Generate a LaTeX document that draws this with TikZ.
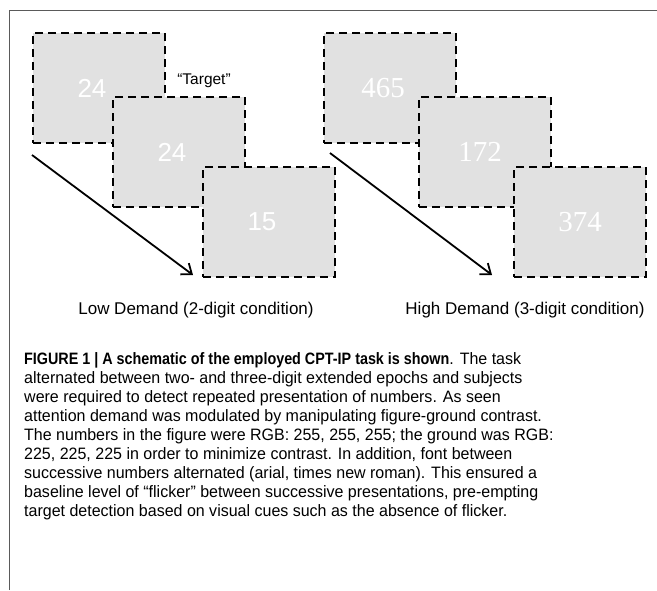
\documentclass[tikz,border=0pt]{standalone}
\usepackage{fontspec}
\setmainfont{Liberation Sans}
\newfontfamily\serifnum{Liberation Serif}
\newfontfamily\capfont[FakeStretch=0.97, BoldFeatures={FakeStretch=0.87}]{Liberation Sans}
\usetikzlibrary{arrows.meta}
\definecolor{ground}{RGB}{225,225,225}
\definecolor{frame}{RGB}{90,90,90}

\begin{document}
\begin{tikzpicture}[x=1pt, y=-1pt,
        screen/.style = {draw, fill=ground, line width=2.6pt, dash pattern=on 8pt off 5pt,
                         minimum width=132pt, minimum height=110pt, inner sep=0pt},
        digits/.style = {white, font=\fontsize{26}{26}\selectfont},
        sdigits/.style = {white, font=\serifnum\fontsize{29}{29}\selectfont},
        trial/.style = {-{Straight Barb[length=9pt,width=14pt]}, line width=1.8pt},
        cond/.style = {font=\fontsize{17}{20}\selectfont}]
        \useasboundingbox (0,0) rectangle (657,590);

        % Frame
        \draw[frame, line width=1pt] (9,590) -- (9,10) -- (657,10);

        % Low demand screens
        \node[screen] (L1) at (99,88) {};
        \node[digits] at ([xshift=-7pt]L1.center) {24};
        \node[screen] (L2) at (179,152) {};
        \node[digits] at ([xshift=-7pt]L2.center) {24};
        \node[screen] (L3) at (269,222) {};
        \node[digits] at ([xshift=-7pt]L3.center) {15};

        % Target label
        \node[font=\fontsize{15.5}{18}\selectfont] (tgt) at (204,81) {“Target”};

        % High demand screens
        \node[screen] (H1) at (390,88) {};
        \node[sdigits] at ([xshift=-7pt]H1.center) {465};
        \node[screen] (H2) at (485,152) {};
        \node[sdigits] at ([xshift=-5pt]H2.center) {172};
        \node[screen] (H3) at (580,222) {};
        \node[sdigits] at (H3.center) {374};

        % Time arrows
        \coordinate (ls) at (32,155);
        \coordinate (le) at (193,275);
        \draw[trial] (ls) -- (le);
        \coordinate (hs) at (330,153);
        \coordinate (he) at (492,275);
        \draw[trial] (hs) -- (he);

        % Condition labels
        \node[cond] (lowlab) at (196,310) {Low Demand (2-digit condition)};
        \node[cond] (highlab) at (525,310) {High Demand (3-digit condition)};

        % Caption
        \node[anchor=base west, align=left, inner sep=0pt,
              font=\capfont\fontsize{16.5}{19}\selectfont] (cap) at (24,516)
        {\textbf{FIGURE 1 | A schematic of the employed CPT-IP task is shown}. The task\\
        alternated between two- and three-digit extended epochs and subjects\\
        were required to detect repeated presentation of numbers. As seen\\
        attention demand was modulated by manipulating figure-ground contrast.\\
        The numbers in the figure were RGB: 255, 255, 255; the ground was RGB:\\
        225, 225, 225 in order to minimize contrast. In addition, font between\\
        successive numbers alternated (arial, times new roman). This ensured a\\
        baseline level of “flicker” between successive presentations, pre-empting\\
        target detection based on visual cues such as the absence of flicker.};
    \end{tikzpicture}
\end{document}
